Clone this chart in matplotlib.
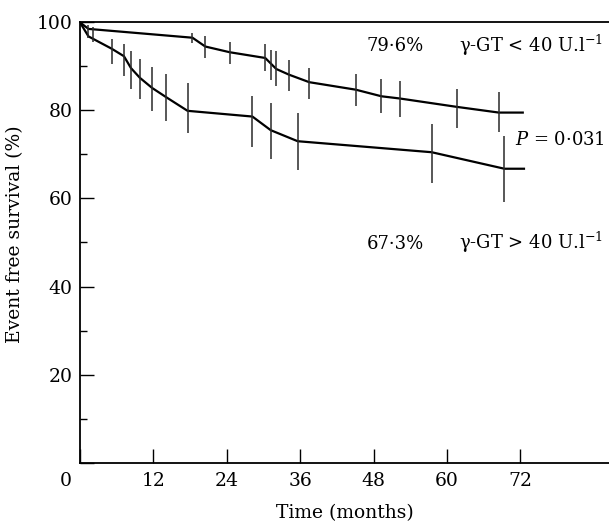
import matplotlib
matplotlib.use("Agg")
import matplotlib.pyplot as plt

# gamma-GT < 40 U/l group: curve vertices and error bars
lowGT_time = [0, 1.4, 18.4, 20.5, 24.5, 30.3, 32.1, 34.2, 37.5, 45.1, 49.3, 52.3, 61.6, 68.5, 72.4]
lowGT_surv = [100, 98.5, 96.5, 94.5, 93.2, 91.9, 89.4, 88.1, 86.4, 84.7, 83.2, 82.7, 80.8, 79.5, 79.5]
lowGT_barT = [1.4, 18.4, 20.5, 24.5, 30.3, 31.2, 32.1, 34.2, 37.5, 45.1, 49.3, 52.3, 61.6, 68.5]
lowGT_barLo = [96.5, 95.3, 91.9, 90.5, 88.9, 86.8, 85.5, 84.5, 82.6, 80.9, 79.5, 78.6, 76.0, 75.1]
lowGT_barHi = [99.4, 97.6, 96.8, 95.5, 95.1, 93.6, 93.4, 91.4, 89.6, 88.3, 87.2, 86.6, 84.9, 84.2]

# gamma-GT > 40 U/l group
highGT_time = [0, 1.4, 5.2, 7.2, 8.35, 9.8, 11.8, 14.1, 17.6, 28.2, 31.2, 35.6, 57.5, 69.4, 72.6]
highGT_surv = [100, 96.8, 94.0, 92.3, 89.6, 87.4, 85.1, 83.0, 79.9, 78.6, 75.5, 73.0, 70.5, 66.75, 66.75]
highGT_barT = [2.2, 5.2, 7.2, 8.35, 9.8, 11.8, 14.1, 17.6, 28.2, 31.2, 35.6, 57.5, 69.4]
highGT_barLo = [95.6, 90.5, 87.7, 84.9, 82.6, 79.9, 77.7, 74.9, 71.7, 69.0, 66.4, 63.5, 59.3]
highGT_barHi = [99.0, 96.2, 95.1, 93.4, 91.7, 89.8, 88.3, 86.2, 83.2, 81.7, 79.3, 77.0, 74.1]

xTicks = [0, 12, 24, 36, 48, 60, 72]
xTickLabels = ["", "12", "24", "36", "48", "60", "72"]
yTicks = [0, 20, 40, 60, 80, 100]
yTickLabels = ["", "20", "40", "60", "80", "100"]
yMinor = [10, 30, 50, 70, 90]

plt.rcParams["font.family"] = ["DejaVu Serif"]
plt.rcParams["mathtext.fontset"] = "dejavuserif"
fs = 13.5   # axis text
fa = 13     # annotations

fig = plt.figure(figsize=(6.09, 5.21), dpi=100)
ax = fig.add_axes([0.1312, 0.1119, 0.8688, 0.8453])

ax.plot(lowGT_time, lowGT_surv, color="black", lw=1.6)
ax.plot(highGT_time, highGT_surv, color="black", lw=1.6)
ax.vlines(lowGT_barT, lowGT_barLo, lowGT_barHi, color="#2a2a2a", lw=1.1)
ax.vlines(highGT_barT, highGT_barLo, highGT_barHi, color="#2a2a2a", lw=1.1)

ax.set_xlim(0, 86.5)
ax.set_ylim(0, 100)
ax.set_xticks(xTicks, xTickLabels)
ax.set_yticks(yTicks, yTickLabels)
ax.set_yticks(yMinor, minor=True)
ax.tick_params(which="major", direction="in", length=10, width=1.0, labelsize=fs)
ax.tick_params(axis="x", pad=7)
ax.tick_params(axis="y", pad=5.5)
ax.tick_params(which="minor", direction="in", length=5, width=1.0)
ax.spines["right"].set_visible(False)
for s in ["left", "bottom", "top"]:
    ax.spines[s].set_linewidth(1.3)

# shared corner label
ax.annotate("0", (0, 0), xytext=(-10, -7), textcoords="offset points",
            ha="center", va="top", fontsize=fs)

ax.set_xlabel("Time (months)", fontsize=fs)
ax.set_ylabel("Event free survival (%)", fontsize=fs)
ax.xaxis.set_label_coords(0.5, -0.094)
ax.yaxis.set_label_coords(-0.105, 0.52)

ax.text(51.5, 93.4, "79·6%", fontsize=fa, ha="center", va="baseline")
ax.text(62.0, 93.4, "γ-GT < 40 U.l$^{-1}$", fontsize=fa, ha="left", va="baseline")
ax.text(85.8, 73.3, "$P$ = 0·031", fontsize=fa, ha="right", va="center")
ax.text(51.5, 48.6, "67·3%", fontsize=fa, ha="center", va="baseline")
ax.text(62.0, 48.6, "γ-GT > 40 U.l$^{-1}$", fontsize=fa, ha="left", va="baseline")

fig.savefig("out.png", dpi=100)
